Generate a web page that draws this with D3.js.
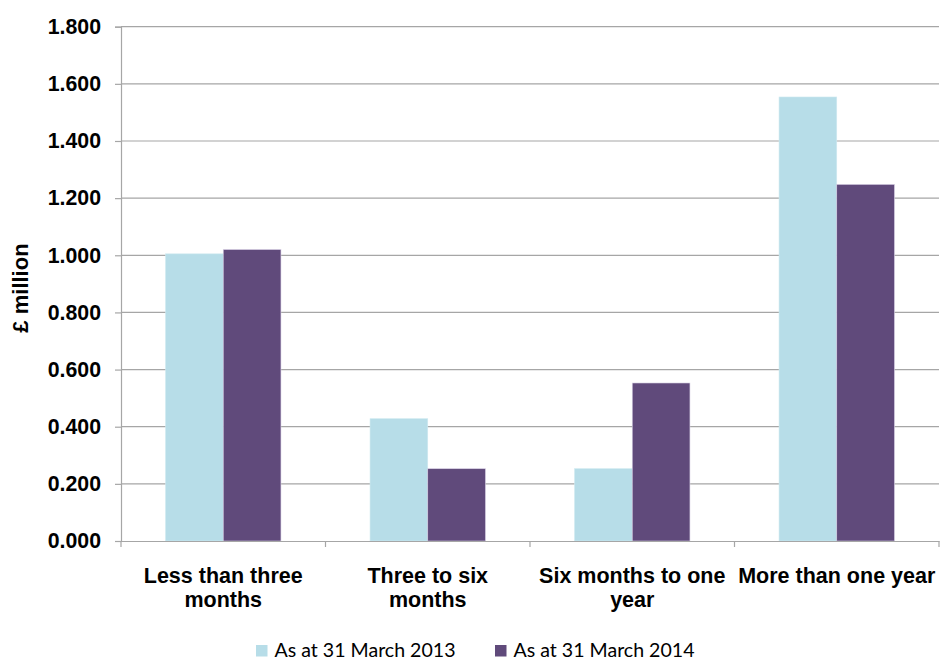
<!DOCTYPE html>
<html>
<head>
<meta charset="utf-8">
<script src="https://cdn.jsdelivr.net/npm/d3@7"></script>
<style>
  html, body { margin: 0; padding: 0; background: #fff; }
  svg { display: block; }
</style>
</head>
<body>
<svg id="chart" width="941" height="660"></svg>
<script>
// Ageing of balances, £ million
const categories = ["Less than three months", "Three to six months", "Six months to one year", "More than one year"];
const categoryLines = [["Less than three", "months"], ["Three to six", "months"], ["Six months to one", "year"], ["More than one year"]];
const seriesNames = ["As at 31 March 2013", "As at 31 March 2014"];
const values2013 = [1.005, 0.428, 0.253, 1.554];
const values2014 = [1.020, 0.253, 0.553, 1.248];
const yTicks = [0, 0.2, 0.4, 0.6, 0.8, 1.0, 1.2, 1.4, 1.6, 1.8];
const colors = ["#B7DDE8", "#604A7B"];

const svg = d3.select("#chart");
const margin = { left: 121, right: 2, top: 26.7, bottom: 119 };
const W = 941, H = 660;

const x = d3.scaleBand().domain(categories).range([margin.left, W - margin.right]).paddingInner(0).paddingOuter(0);
const x1 = d3.scaleBand().domain(seriesNames).range([0, x.bandwidth()]).paddingOuter(0.772).paddingInner(0);
const y = d3.scaleLinear().domain([0, 1.8]).range([H - margin.bottom, margin.top]);

const labelFont = "'Liberation Sans', Arial, sans-serif";
const gridColor = "#A6A6A6";

// gridlines
svg.append("g")
  .selectAll("line").data(yTicks.slice(1)).join("line")
  .attr("x1", margin.left).attr("x2", W - margin.right)
  .attr("y1", d => y(d)).attr("y2", d => y(d))
  .attr("stroke", gridColor).attr("stroke-width", 1.2);

// bars
const rows = categories.map((c, i) => ({ cat: c, vals: [values2013[i], values2014[i]] }));
svg.append("g").selectAll("g").data(rows).join("g")
  .attr("transform", d => `translate(${x(d.cat)},0)`)
  .selectAll("rect").data(d => d.vals.map((v, j) => ({ v, s: seriesNames[j], j })))
  .join("rect")
  .attr("x", d => x1(d.s)).attr("width", x1.bandwidth())
  .attr("y", d => y(d.v)).attr("height", d => y(0) - y(d.v))
  .attr("fill", d => colors[d.j])
  .attr("stroke", d => d.j === 1 ? "#D8D0E4" : "#CFE9F0").attr("stroke-width", 0.6);

// y axis
const yAxis = svg.append("g")
  .attr("transform", `translate(${margin.left},0)`)
  .call(d3.axisLeft(y).tickValues(yTicks).tickFormat(d3.format(".3f")).tickSize(6).tickPadding(14));
yAxis.select(".domain").attr("stroke", gridColor).attr("stroke-width", 1.2);
yAxis.selectAll(".tick line").attr("stroke", gridColor).attr("stroke-width", 1.2);
yAxis.selectAll(".tick text")
  .attr("font-family", labelFont).attr("font-weight", "bold").attr("font-size", 21.3).attr("fill", "#000");

// x axis
const xAxis = svg.append("g")
  .attr("transform", `translate(0,${y(0)})`)
  .call(d3.axisBottom(x).tickSize(0).tickFormat(""));
xAxis.select(".domain").attr("stroke", gridColor).attr("stroke-width", 1.2);
xAxis.selectAll(".tick").remove();
// category boundary ticks
const bounds = categories.map(c => x(c)).concat([x(categories[categories.length - 1]) + x.bandwidth()]);
xAxis.selectAll("line.bound").data(bounds).join("line")
  .attr("class", "bound")
  .attr("x1", d => d).attr("x2", d => d).attr("y1", 0).attr("y2", 6)
  .attr("stroke", gridColor).attr("stroke-width", 1.2);

// category labels
svg.append("g").selectAll("text").data(categories).join("text")
  .attr("x", d => x(d) + x.bandwidth() / 2)
  .attr("y", 583)
  .attr("text-anchor", "middle")
  .attr("font-family", labelFont).attr("font-weight", "bold").attr("font-size", 21.5).attr("fill", "#000")
  .selectAll("tspan").data((d, i) => categoryLines[i]).join("tspan")
  .attr("x", function () { return this.parentNode.getAttribute("x"); })
  .attr("dy", (d, i) => i === 0 ? 0 : 23.5)
  .text(d => d);

// y axis title
svg.append("text")
  .attr("transform", `translate(28,288) rotate(-90)`)
  .attr("text-anchor", "middle")
  .attr("font-family", labelFont).attr("font-weight", "bold").attr("font-size", 22).attr("fill", "#000")
  .text("£ million");

// legend
const legendX = [256, 495];
const legend = svg.append("g").selectAll("g").data(seriesNames).join("g")
  .attr("transform", (d, i) => `translate(${legendX[i]},645)`);
legend.append("rect").attr("width", 11.5).attr("height", 11.5).attr("fill", (d, i) => colors[i]);
legend.append("text").attr("x", 18.5).attr("y", 11.5)
  .attr("font-family", "Lato, 'Open Sans', sans-serif").attr("font-size", 18.5).attr("fill", "#000")
  .attr("textLength", 181).attr("lengthAdjust", "spacingAndGlyphs")
  .text(d => d);
</script>
</body>
</html>
